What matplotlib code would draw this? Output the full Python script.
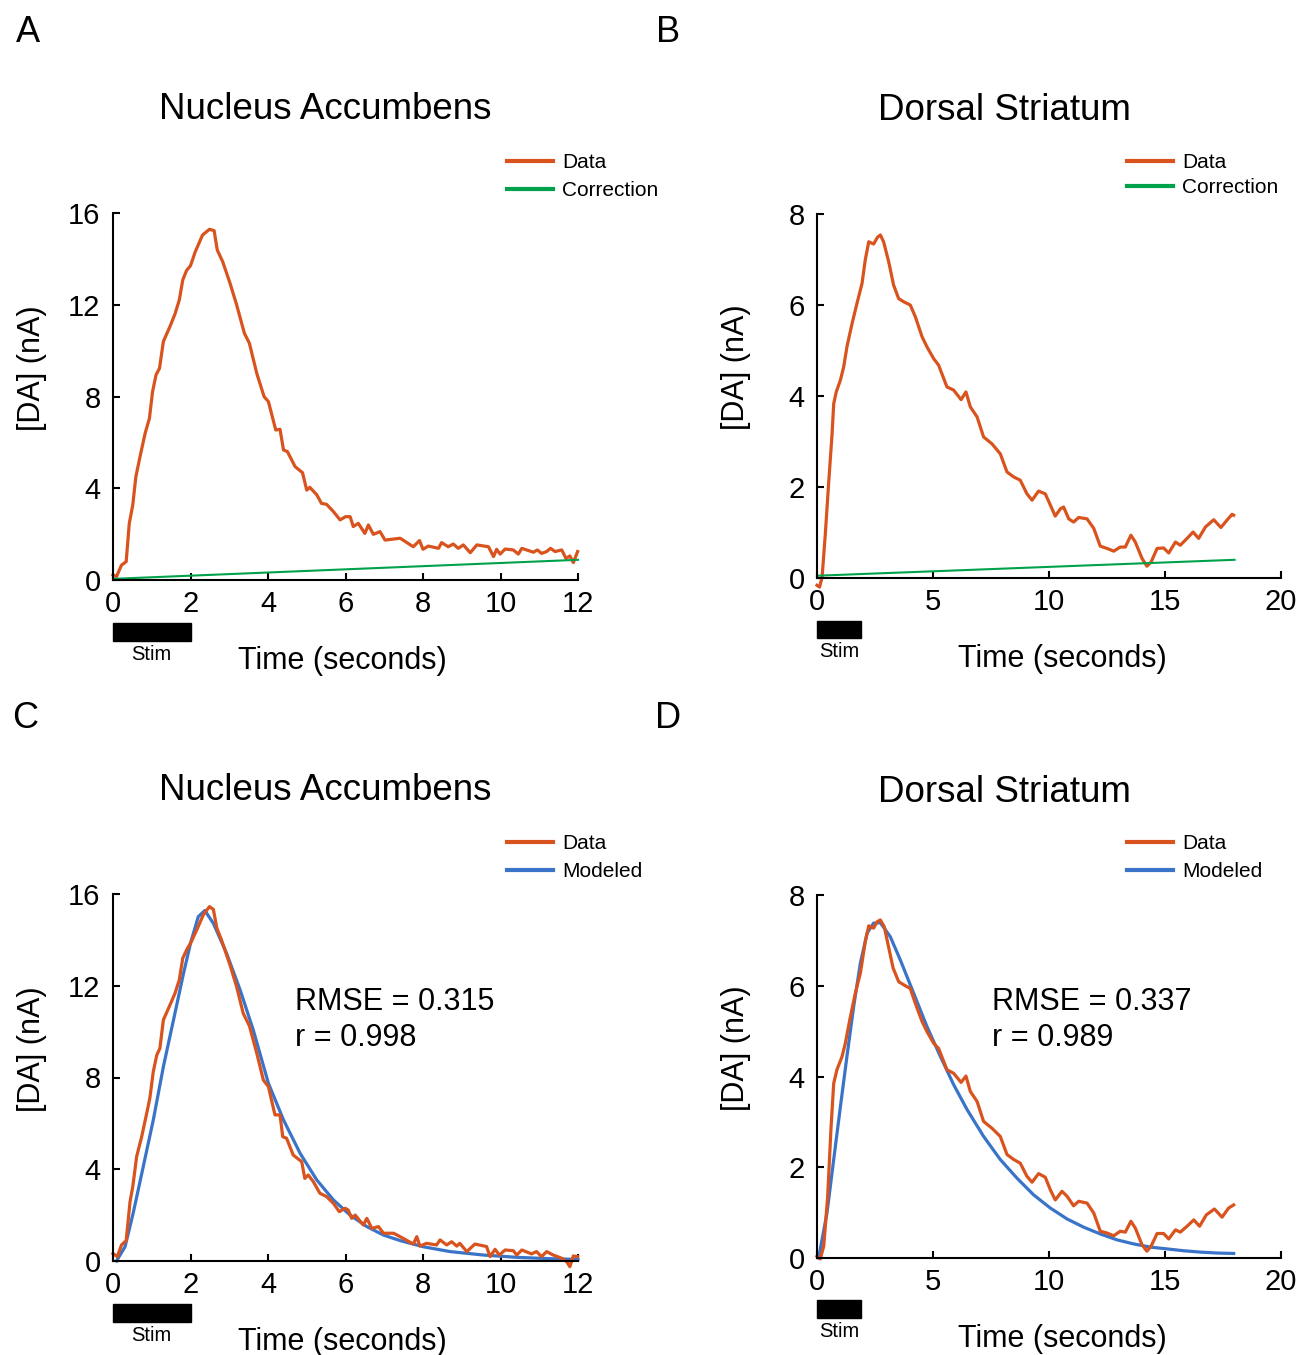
import numpy as np
import matplotlib
matplotlib.use("Agg")
import matplotlib.pyplot as plt
import matplotlib.transforms as mtransforms
from matplotlib.patches import Rectangle
from matplotlib.lines import Line2D

plt.rcParams['font.family'] = ['Liberation Sans', 'DejaVu Sans']

RED = '#D9531E'
GREEN = '#00A14B'
BLUE = '#3A74C9'

# ---- Nucleus Accumbens, raw data (panel A)
nac_t = [0.0, 0.09, 0.22, 0.34, 0.42, 0.51, 0.59, 0.70, 0.83, 0.94, 1.02, 1.11, 1.20, 1.30,
         1.47, 1.60, 1.71, 1.80, 1.90, 2.00, 2.12, 2.31, 2.49, 2.61, 2.69, 2.83, 3.02, 3.19,
         3.39, 3.52, 3.71, 3.90, 4.01, 4.20, 4.31, 4.40, 4.50, 4.70, 4.89, 5.00, 5.08, 5.26,
         5.38, 5.51, 5.69, 5.86, 6.00, 6.12, 6.20, 6.33, 6.50, 6.59, 6.72, 6.89, 7.02, 7.41,
         7.75, 7.91, 8.00, 8.14, 8.40, 8.48, 8.65, 8.78, 8.91, 9.04, 9.22, 9.39, 9.69, 9.82,
         9.90, 9.99, 10.12, 10.33, 10.46, 10.55, 10.85, 10.95, 11.06, 11.19, 11.29, 11.41,
         11.58, 11.69, 11.79, 11.88, 11.99]
nac_raw = [0.22, 0.15, 0.65, 0.80, 2.47, 3.27, 4.50, 5.40, 6.40, 7.05, 8.20, 8.94, 9.23, 10.40,
           11.05, 11.60, 12.20, 13.08, 13.50, 13.70, 14.30, 15.04, 15.29, 15.23, 14.39, 13.88,
           12.94, 12.00, 10.76, 10.32, 9.01, 7.99, 7.78, 6.54, 6.57, 5.67, 5.60, 4.94, 4.68,
           3.92, 4.04, 3.71, 3.34, 3.30, 2.98, 2.62, 2.76, 2.76, 2.33, 2.47, 2.03, 2.40, 1.99,
           2.11, 1.74, 1.82, 1.45, 1.72, 1.34, 1.48, 1.38, 1.63, 1.45, 1.57, 1.38, 1.53, 1.19,
           1.53, 1.45, 1.02, 1.34, 1.13, 1.35, 1.31, 1.13, 1.38, 1.21, 1.31, 1.16, 1.24, 1.38,
           1.24, 1.31, 0.94, 1.05, 0.76, 1.24]
nac_corr_t = [0.0, 12.0]
nac_corr = [0.05, 0.88]

# ---- Nucleus Accumbens, corrected data and model (panel C)
nac_ct = [0.0, 0.11, 0.22, 0.34, 0.44, 0.51, 0.61, 0.74, 0.87, 0.95, 1.04, 1.13, 1.21, 1.30,
          1.47, 1.60, 1.71, 1.80, 1.92, 2.00, 2.16, 2.33, 2.49, 2.59, 2.68, 2.80, 3.02, 3.19,
          3.36, 3.52, 3.71, 3.88, 4.01, 4.18, 4.31, 4.38, 4.48, 4.65, 4.87, 4.95, 5.04, 5.17,
          5.34, 5.51, 5.69, 5.84, 5.99, 6.07, 6.16, 6.25, 6.46, 6.55, 6.68, 6.85, 6.98, 7.24,
          7.41, 7.75, 7.84, 7.92, 8.09, 8.35, 8.44, 8.61, 8.74, 8.87, 8.95, 9.13, 9.34, 9.64,
          9.73, 9.86, 9.97, 10.12, 10.33, 10.42, 10.55, 10.80, 10.93, 11.06, 11.19, 11.36,
          11.58, 11.71, 11.79, 11.88, 11.99]
nac_corrected = [0.33, 0.19, 0.70, 0.89, 2.59, 3.24, 4.55, 5.42, 6.44, 7.09, 8.26, 8.98, 9.27,
                 10.51, 11.16, 11.67, 12.25, 13.20, 13.63, 13.85, 14.43, 15.09, 15.45, 15.33,
                 14.51, 14.00, 12.90, 11.96, 10.80, 10.25, 9.06, 7.89, 7.60, 6.37, 6.37, 5.42,
                 5.35, 4.62, 4.33, 3.60, 3.75, 3.46, 2.95, 2.81, 2.51, 2.15, 2.30, 2.22, 1.86,
                 2.00, 1.57, 1.86, 1.42, 1.50, 1.21, 1.21, 1.06, 0.74, 1.06, 0.65, 0.77, 0.70,
                 0.92, 0.70, 0.84, 0.65, 0.77, 0.41, 0.74, 0.63, 0.19, 0.51, 0.26, 0.48, 0.45,
                 0.26, 0.48, 0.31, 0.41, 0.19, 0.41, 0.26, 0.12, -0.03, -0.25, 0.22, 0.19]
nac_mt = [0.09, 0.31, 0.52, 0.78, 1.04, 1.30, 1.56, 1.82, 2.00, 2.20, 2.37, 2.59, 2.93, 3.28,
          3.62, 4.01, 4.40, 4.83, 5.26, 5.69, 6.12, 6.55, 6.98, 7.41, 8.01, 8.70, 9.56, 10.42,
          11.28, 12.00]
nac_model = [0.0, 0.62, 2.08, 4.11, 6.15, 8.47, 10.50, 12.54, 13.85, 15.01, 15.28, 14.72,
             13.42, 11.82, 10.07, 7.75, 6.15, 4.69, 3.53, 2.66, 2.00, 1.50, 1.13, 0.89, 0.62,
             0.41, 0.26, 0.16, 0.10, 0.07]

# ---- Dorsal Striatum, raw data (panel B)
ds_t = [0.0, 0.11, 0.22, 0.36, 0.50, 0.65, 0.72, 0.83, 1.01, 1.15, 1.29, 1.51, 1.72, 1.94,
        2.08, 2.23, 2.44, 2.61, 2.73, 2.87, 3.09, 3.30, 3.52, 3.74, 4.02, 4.24, 4.53, 4.74,
        5.03, 5.24, 5.60, 5.89, 6.21, 6.42, 6.61, 6.90, 7.18, 7.54, 7.90, 8.19, 8.48, 8.76,
        9.05, 9.27, 9.55, 9.84, 10.06, 10.27, 10.49, 10.63, 10.85, 11.06, 11.28, 11.64, 11.93,
        12.21, 12.50, 12.79, 13.07, 13.29, 13.53, 13.72, 14.01, 14.22, 14.40, 14.66, 14.94,
        15.16, 15.45, 15.66, 15.95, 16.21, 16.45, 16.74, 17.10, 17.41, 17.67, 17.89, 17.96]
ds_raw = [-0.16, -0.20, 0.02, 0.98, 2.07, 3.17, 3.83, 4.09, 4.35, 4.64, 5.08, 5.59, 6.03, 6.47,
          6.99, 7.39, 7.34, 7.49, 7.54, 7.39, 6.95, 6.44, 6.14, 6.07, 6.00, 5.74, 5.30, 5.08,
          4.82, 4.68, 4.20, 4.13, 3.92, 4.09, 3.76, 3.54, 3.10, 2.95, 2.73, 2.33, 2.22, 2.15,
          1.85, 1.71, 1.91, 1.85, 1.60, 1.36, 1.52, 1.56, 1.30, 1.23, 1.33, 1.30, 1.09, 0.70,
          0.65, 0.59, 0.68, 0.68, 0.94, 0.79, 0.43, 0.26, 0.35, 0.65, 0.66, 0.55, 0.79, 0.72,
          0.87, 1.01, 0.87, 1.12, 1.28, 1.11, 1.27, 1.40, 1.38]
ds_corr_t = [0.0, 18.0]
ds_corr = [0.05, 0.40]

# ---- Dorsal Striatum, corrected data and model (panel D)
ds_ct = [0.0, 0.14, 0.29, 0.46, 0.60, 0.72, 0.86, 1.08, 1.22, 1.44, 1.65, 1.87, 2.08, 2.23,
         2.44, 2.59, 2.73, 2.90, 3.05, 3.28, 3.52, 3.74, 4.02, 4.24, 4.53, 4.74, 5.03, 5.24,
         5.60, 5.89, 6.21, 6.42, 6.61, 6.90, 7.18, 7.54, 7.90, 8.19, 8.48, 8.76, 9.05, 9.27,
         9.55, 9.84, 10.06, 10.27, 10.56, 10.78, 11.06, 11.28, 11.64, 11.93, 12.21, 12.50,
         12.79, 13.07, 13.29, 13.53, 13.72, 14.01, 14.22, 14.40, 14.66, 14.94, 15.16, 15.45,
         15.66, 15.95, 16.24, 16.49, 16.78, 17.13, 17.46, 17.74, 17.96]
ds_corrected = [0.04, -0.02, 0.26, 1.36, 2.83, 3.85, 4.15, 4.44, 4.73, 5.32, 5.83, 6.28, 6.97,
                7.32, 7.27, 7.41, 7.45, 7.30, 6.94, 6.39, 6.09, 6.02, 5.94, 5.61, 5.21, 4.99,
                4.73, 4.62, 4.15, 4.07, 3.87, 4.01, 3.67, 3.45, 3.01, 2.86, 2.68, 2.28, 2.17,
                2.09, 1.80, 1.67, 1.86, 1.78, 1.50, 1.28, 1.47, 1.36, 1.15, 1.25, 1.21, 0.99,
                0.59, 0.55, 0.49, 0.59, 0.57, 0.81, 0.66, 0.29, 0.15, 0.26, 0.54, 0.54, 0.42,
                0.62, 0.57, 0.70, 0.84, 0.70, 0.95, 1.08, 0.90, 1.10, 1.17]
ds_mt = [0.07, 0.43, 0.72, 1.01, 1.29, 1.58, 1.87, 2.16, 2.44, 2.73, 3.16, 3.59, 4.17, 4.74,
         5.32, 5.89, 6.47, 7.18, 7.90, 8.62, 9.34, 10.06, 10.78, 11.49, 12.21, 12.93, 13.65,
         14.37, 15.09, 15.80, 16.52, 17.24, 17.96]
ds_model = [0.0, 0.99, 2.17, 3.34, 4.44, 5.54, 6.50, 7.16, 7.38, 7.39, 7.08, 6.57, 5.83, 5.10,
            4.44, 3.82, 3.27, 2.68, 2.17, 1.76, 1.39, 1.10, 0.86, 0.68, 0.53, 0.40, 0.31,
            0.24, 0.20, 0.16, 0.13, 0.11, 0.10]

nac_xticks = [0, 2, 4, 6, 8, 10, 12]
nac_yticks = [0, 4, 8, 12, 16]
ds_xticks = [0, 5, 10, 15, 20]
ds_yticks = [0, 2, 4, 6, 8]
nac_stim = (0.0, 2.0)
ds_stim = (0.0, 1.9)
nac_stats = ['RMSE = 0.315', 'r = 0.998']
ds_stats = ['RMSE = 0.337', 'r = 0.989']

W, H = 1301, 1355
fig = plt.figure(figsize=(W / 100, H / 100), dpi=100)


def px_ax(l, t, r, b):
    return fig.add_axes([l / W, 1 - b / H, (r - l) / W, (b - t) / H])


def style(ax, title, xticks, yticks, stim, title_x, xlabel_x):
    ax.set_xlim(xticks[0], xticks[-1])
    ax.set_ylim(yticks[0], yticks[-1])
    ax.set_xticks(xticks)
    ax.set_yticks(yticks)
    for s in ['top', 'right']:
        ax.spines[s].set_visible(False)
    for s in ['left', 'bottom']:
        ax.spines[s].set_linewidth(1.5)
    ax.tick_params(direction='in', length=5, width=1.5, labelsize=21, pad=7)
    ax.tick_params(axis='y', pad=9)
    ax.set_xlabel('Time (seconds)', fontsize=22, va='center')
    ax.xaxis.set_label_coords(xlabel_x, -0.222)
    ax.set_ylabel('[DA] (nA)', fontsize=22, va='center')
    ax.yaxis.set_label_coords(-0.175, 0.578)
    ax.text(title_x, 1.283, title, transform=ax.transAxes, ha='center', va='center',
            fontsize=26.5)
    # stim bar under the time axis
    trans = mtransforms.blended_transform_factory(ax.transData, ax.transAxes)
    ax.add_patch(Rectangle((stim[0], -0.165), stim[1] - stim[0], 0.048, transform=trans,
                           color='black', clip_on=False))
    ax.text((stim[0] + stim[1]) / 2, -0.203, 'Stim', transform=trans, ha='center',
            va='center', fontsize=14.5)


def legend(ax, labels, colors, x, y, spacing):
    handles = [Line2D([], [], color=c, lw=3) for c in colors]
    ax.legend(handles, labels, loc='upper left', bbox_to_anchor=(x / W, 1 - y / H),
              bbox_transform=fig.transFigure, frameon=False, fontsize=15, borderpad=0,
              borderaxespad=0, handlelength=2.2, handletextpad=0.45, labelspacing=spacing)


def stats(ax, x, ys, lines):
    for y, s in zip(ys, lines):
        ax.text(x, y, s, fontsize=22, ha='left', va='baseline')


# A
axA = px_ax(113, 213, 578, 580)
axA.plot(nac_t, nac_raw, color=RED, lw=2.3, clip_on=False)
axA.plot(nac_corr_t, nac_corr, color=GREEN, lw=1.5, clip_on=False)
style(axA, 'Nucleus Accumbens', nac_xticks, nac_yticks, nac_stim, 0.456, 0.493)
legend(axA, ['Data', 'Correction'], [RED, GREEN], 507, 153, 0.45)

# B
axB = px_ax(817, 214, 1281, 578)
axB.plot(ds_t, ds_raw, color=RED, lw=2.3, clip_on=False)
axB.plot(ds_corr_t, ds_corr, color=GREEN, lw=1.5, clip_on=False)
style(axB, 'Dorsal Striatum', ds_xticks, ds_yticks, ds_stim, 0.403, 0.528)
legend(axB, ['Data', 'Correction'], [RED, GREEN], 1127, 153, 0.3)

# C
axC = px_ax(113, 894, 578, 1261)
axC.plot(nac_mt, nac_model, color=BLUE, lw=2.3, clip_on=False)
axC.plot(nac_ct, nac_corrected, color=RED, lw=2.3, clip_on=False)
style(axC, 'Nucleus Accumbens', nac_xticks, nac_yticks, nac_stim, 0.456, 0.493)
legend(axC, ['Data', 'Modeled'], [RED, BLUE], 507, 834, 0.45)
stats(axC, 4.7, [10.94, 9.37], nac_stats)

# D
axD = px_ax(817, 895, 1281, 1258)
axD.plot(ds_mt, ds_model, color=BLUE, lw=2.3, clip_on=False)
axD.plot(ds_ct, ds_corrected, color=RED, lw=2.3, clip_on=False)
style(axD, 'Dorsal Striatum', ds_xticks, ds_yticks, ds_stim, 0.403, 0.528)
legend(axD, ['Data', 'Modeled'], [RED, BLUE], 1127, 834, 0.45)
stats(axD, 7.54, [5.47, 4.68], ds_stats)

# panel letters
for letter, x, y in [('A', 28, 32), ('B', 668, 32), ('C', 25, 719), ('D', 668, 719)]:
    fig.text(x / W, 1 - y / H, letter, ha='center', va='center', fontsize=26)

fig.savefig('out.png', dpi=100)
